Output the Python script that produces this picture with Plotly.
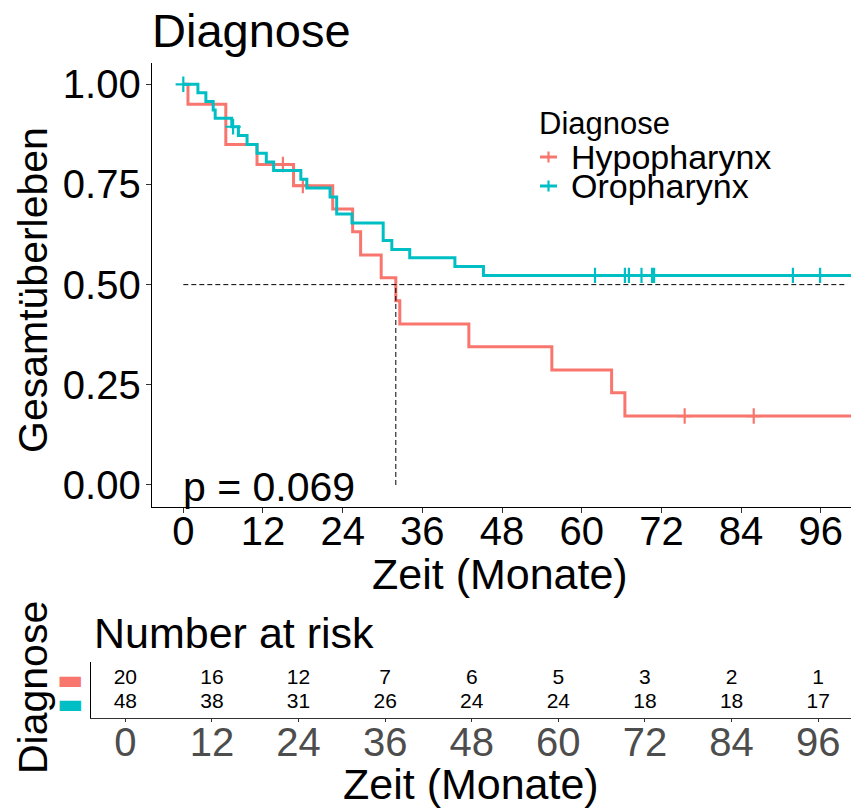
import plotly.graph_objects as go

# ---------------- data ----------------
groups = ["Hypopharynx", "Oropharynx"]
colors = ["#F8766D", "#00BFC4"]

# Hypopharynx: step times (months) and survival after each step
hypo_time = [0, 0.7, 6.4, 11.1, 16.6, 22.5, 25.5, 26.7, 29.8, 32.0, 32.6, 43.0, 55.5, 64.5, 66.5]
hypo_surv = [1.0, 0.95, 0.85, 0.80, 0.747, 0.689, 0.632, 0.574, 0.517, 0.460, 0.402, 0.345, 0.287, 0.230, 0.172]
hypo_end = 102
hypo_cens_time = [15.0, 18.0, 75.5, 85.9]
hypo_cens_surv = [0.80, 0.747, 0.172, 0.172]

# Oropharynx
oro_time = [0, 2.2, 3.4, 4.5, 4.8, 7.3, 8.3, 9.6, 11.1, 12.5, 13.6, 17.7, 18.6, 22.1, 23.1,
            25.4, 30.1, 31.4, 34.1, 40.9, 45.2]
oro_surv = [1.0, 0.979, 0.957, 0.936, 0.915, 0.894, 0.872, 0.850, 0.828, 0.806, 0.785, 0.763,
            0.741, 0.719, 0.676, 0.654, 0.610, 0.588, 0.567, 0.545, 0.523]
oro_end = 102
oro_cens_time = [0, 7.5, 62.0, 66.5, 67.1, 69.0, 70.6, 70.9, 91.8, 95.9]
oro_cens_surv = [1.0, 0.894, 0.523, 0.523, 0.523, 0.523, 0.523, 0.523, 0.523, 0.523]

median_surv = 0.5
median_time = 32.0
median_line_end = 100

p_text = "p = 0.069"

risk_times = [0, 12, 24, 36, 48, 60, 72, 84, 96]
risk_hypo = [20, 16, 12, 7, 6, 5, 3, 2, 1]
risk_oro = [48, 38, 31, 26, 24, 24, 18, 18, 17]

x_ticks = [0, 12, 24, 36, 48, 60, 72, 84, 96]
y_ticks = [0, 0.25, 0.5, 0.75, 1.0]
y_ticktext = ["0.00", "0.25", "0.50", "0.75", "1.00"]

# ---------------- layout helpers ----------------
W, H = 851, 808
def px(x):
    return x / W
def py(y):
    return 1 - y / H

FONT = "Liberation Sans, Arial, Helvetica, sans-serif"

fig = go.Figure()

series = [
    (hypo_time, hypo_surv, hypo_end, hypo_cens_time, hypo_cens_surv),
    (oro_time, oro_surv, oro_end, oro_cens_time, oro_cens_surv),
]

for (t, s, end, ct, cs), name, col in zip(series, groups, colors):
    fig.add_trace(go.Scatter(
        x=t + [end], y=s + [s[-1]], mode="lines", line=dict(color=col, width=3, shape="hv"),
        showlegend=False, xaxis="x", yaxis="y", hoverinfo="skip"))
    fig.add_trace(go.Scatter(
        x=ct, y=cs, mode="markers",
        marker=dict(symbol="cross-thin", size=11, line=dict(color=col, width=2.2), color=col),
        showlegend=False, xaxis="x", yaxis="y", hoverinfo="skip"))

# median lines
fig.add_trace(go.Scatter(x=[0, median_line_end], y=[median_surv, median_surv], mode="lines",
                         line=dict(color="black", width=1, dash="5px,3px"),
                         showlegend=False, xaxis="x", yaxis="y", hoverinfo="skip"))
fig.add_trace(go.Scatter(x=[median_time, median_time], y=[0, median_surv], mode="lines",
                         line=dict(color="black", width=1, dash="5px,3px"),
                         showlegend=False, xaxis="x", yaxis="y", hoverinfo="skip"))

# risk table
for row, (vals, yv) in enumerate([(risk_hypo, 2), (risk_oro, 1)]):
    fig.add_trace(go.Scatter(
        x=risk_times, y=[yv] * len(risk_times), mode="text",
        text=[str(v) for v in vals], textposition="middle center",
        textfont=dict(size=21, color="black", family=FONT),
        showlegend=False, xaxis="x2", yaxis="y2", hoverinfo="skip"))

xrange = [-4.76, 100.55]
fig.update_layout(
    width=W, height=H,
    margin=dict(l=0, r=0, t=0, b=0, autoexpand=False),
    plot_bgcolor="white", paper_bgcolor="white",
    font=dict(family=FONT, color="black"),
    showlegend=False,
    xaxis=dict(domain=[px(151.7), 1], range=xrange, tickvals=x_ticks, automargin=False,
               ticks="outside", ticklen=5, tickcolor="#333", tickwidth=1,
               showline=True, linecolor="black", linewidth=1, ticklabelstandoff=-16,
               showgrid=False, zeroline=False, tickfont=dict(size=40, color="black"),
               anchor="y"),
    yaxis=dict(domain=[py(506.7), py(63.3)], range=[-0.0542, 1.0524], tickvals=y_ticks,
               ticktext=y_ticktext, ticks="outside", ticklen=5, tickcolor="#333", tickwidth=1,
               showline=True, linecolor="black", linewidth=1, ticklabelstandoff=-3,
               showgrid=False, zeroline=False, tickfont=dict(size=40, color="black"),
               anchor="x", automargin=False),
    xaxis2=dict(domain=[px(91), 1], range=xrange, tickvals=x_ticks, automargin=False,
                ticks="outside", ticklen=3, tickcolor="#333", tickwidth=1,
                showline=True, linecolor="#333", linewidth=1, ticklabelstandoff=-14,
                showgrid=False, zeroline=False, tickfont=dict(size=40, color="#4D4D4D"),
                anchor="y2"),
    yaxis2=dict(domain=[py(717.7), py(661.7)], range=[0.4, 2.7], tickvals=[2, 1],
                ticktext=['<span style="color:%s">▬</span>' % colors[0],
                          '<span style="color:%s">▬</span>' % colors[1]],
                ticks="", showline=True, linecolor="black", linewidth=1, ticklabelstandoff=1,
                showgrid=False, zeroline=False, automargin=False,
                tickfont=dict(size=28, family="DejaVu Sans"), anchor="x2"),
)

# manual legend (key line + censor cross, then label)
shapes = []
legend_rows_y = [157, 186]
for col, ly in zip(colors, legend_rows_y):
    shapes.append(dict(type="line", xref="paper", yref="paper",
                       x0=px(540), x1=px(557), y0=py(ly), y1=py(ly),
                       line=dict(color=col, width=3)))
    shapes.append(dict(type="line", xref="paper", yref="paper",
                       x0=px(548.5), x1=px(548.5), y0=py(ly - 5.5), y1=py(ly + 5.5),
                       line=dict(color=col, width=2.2)))
fig.update_layout(shapes=shapes)

annotations = [
    dict(text="Diagnose", x=px(150), y=py(30), xanchor="left", yanchor="middle",
         font=dict(size=47)),
    dict(text="Gesamtüberleben", x=px(33), y=py(290), xanchor="center", yanchor="middle",
         textangle=-90, font=dict(size=41)),
    dict(text="Zeit (Monate)", x=px(500), y=py(574), xanchor="center", yanchor="middle",
         font=dict(size=43)),
    dict(text=p_text, x=px(181), y=py(487), xanchor="left", yanchor="middle",
         font=dict(size=41)),
    dict(text="Number at risk", x=px(92), y=py(633), xanchor="left", yanchor="middle",
         font=dict(size=43)),
    dict(text="Diagnose", x=px(33), y=py(688), xanchor="center", yanchor="middle",
         textangle=-90, font=dict(size=41)),
    dict(text="Zeit (Monate)", x=px(471), y=py(784), xanchor="center", yanchor="middle",
         font=dict(size=43)),
    dict(text="Diagnose", x=px(537), y=py(123), xanchor="left", yanchor="middle",
         font=dict(size=31)),
]
for name, ly in zip(groups, legend_rows_y):
    annotations.append(dict(text=name, x=px(569), y=py(ly), xanchor="left", yanchor="middle",
                            font=dict(size=34)))
for a in annotations:
    a.update(xref="paper", yref="paper", showarrow=False)
fig.update_layout(annotations=annotations)

fig.write_html("out.html", config={"displayModeBar": False},
               post_script="document.body.style.margin='0px';")
